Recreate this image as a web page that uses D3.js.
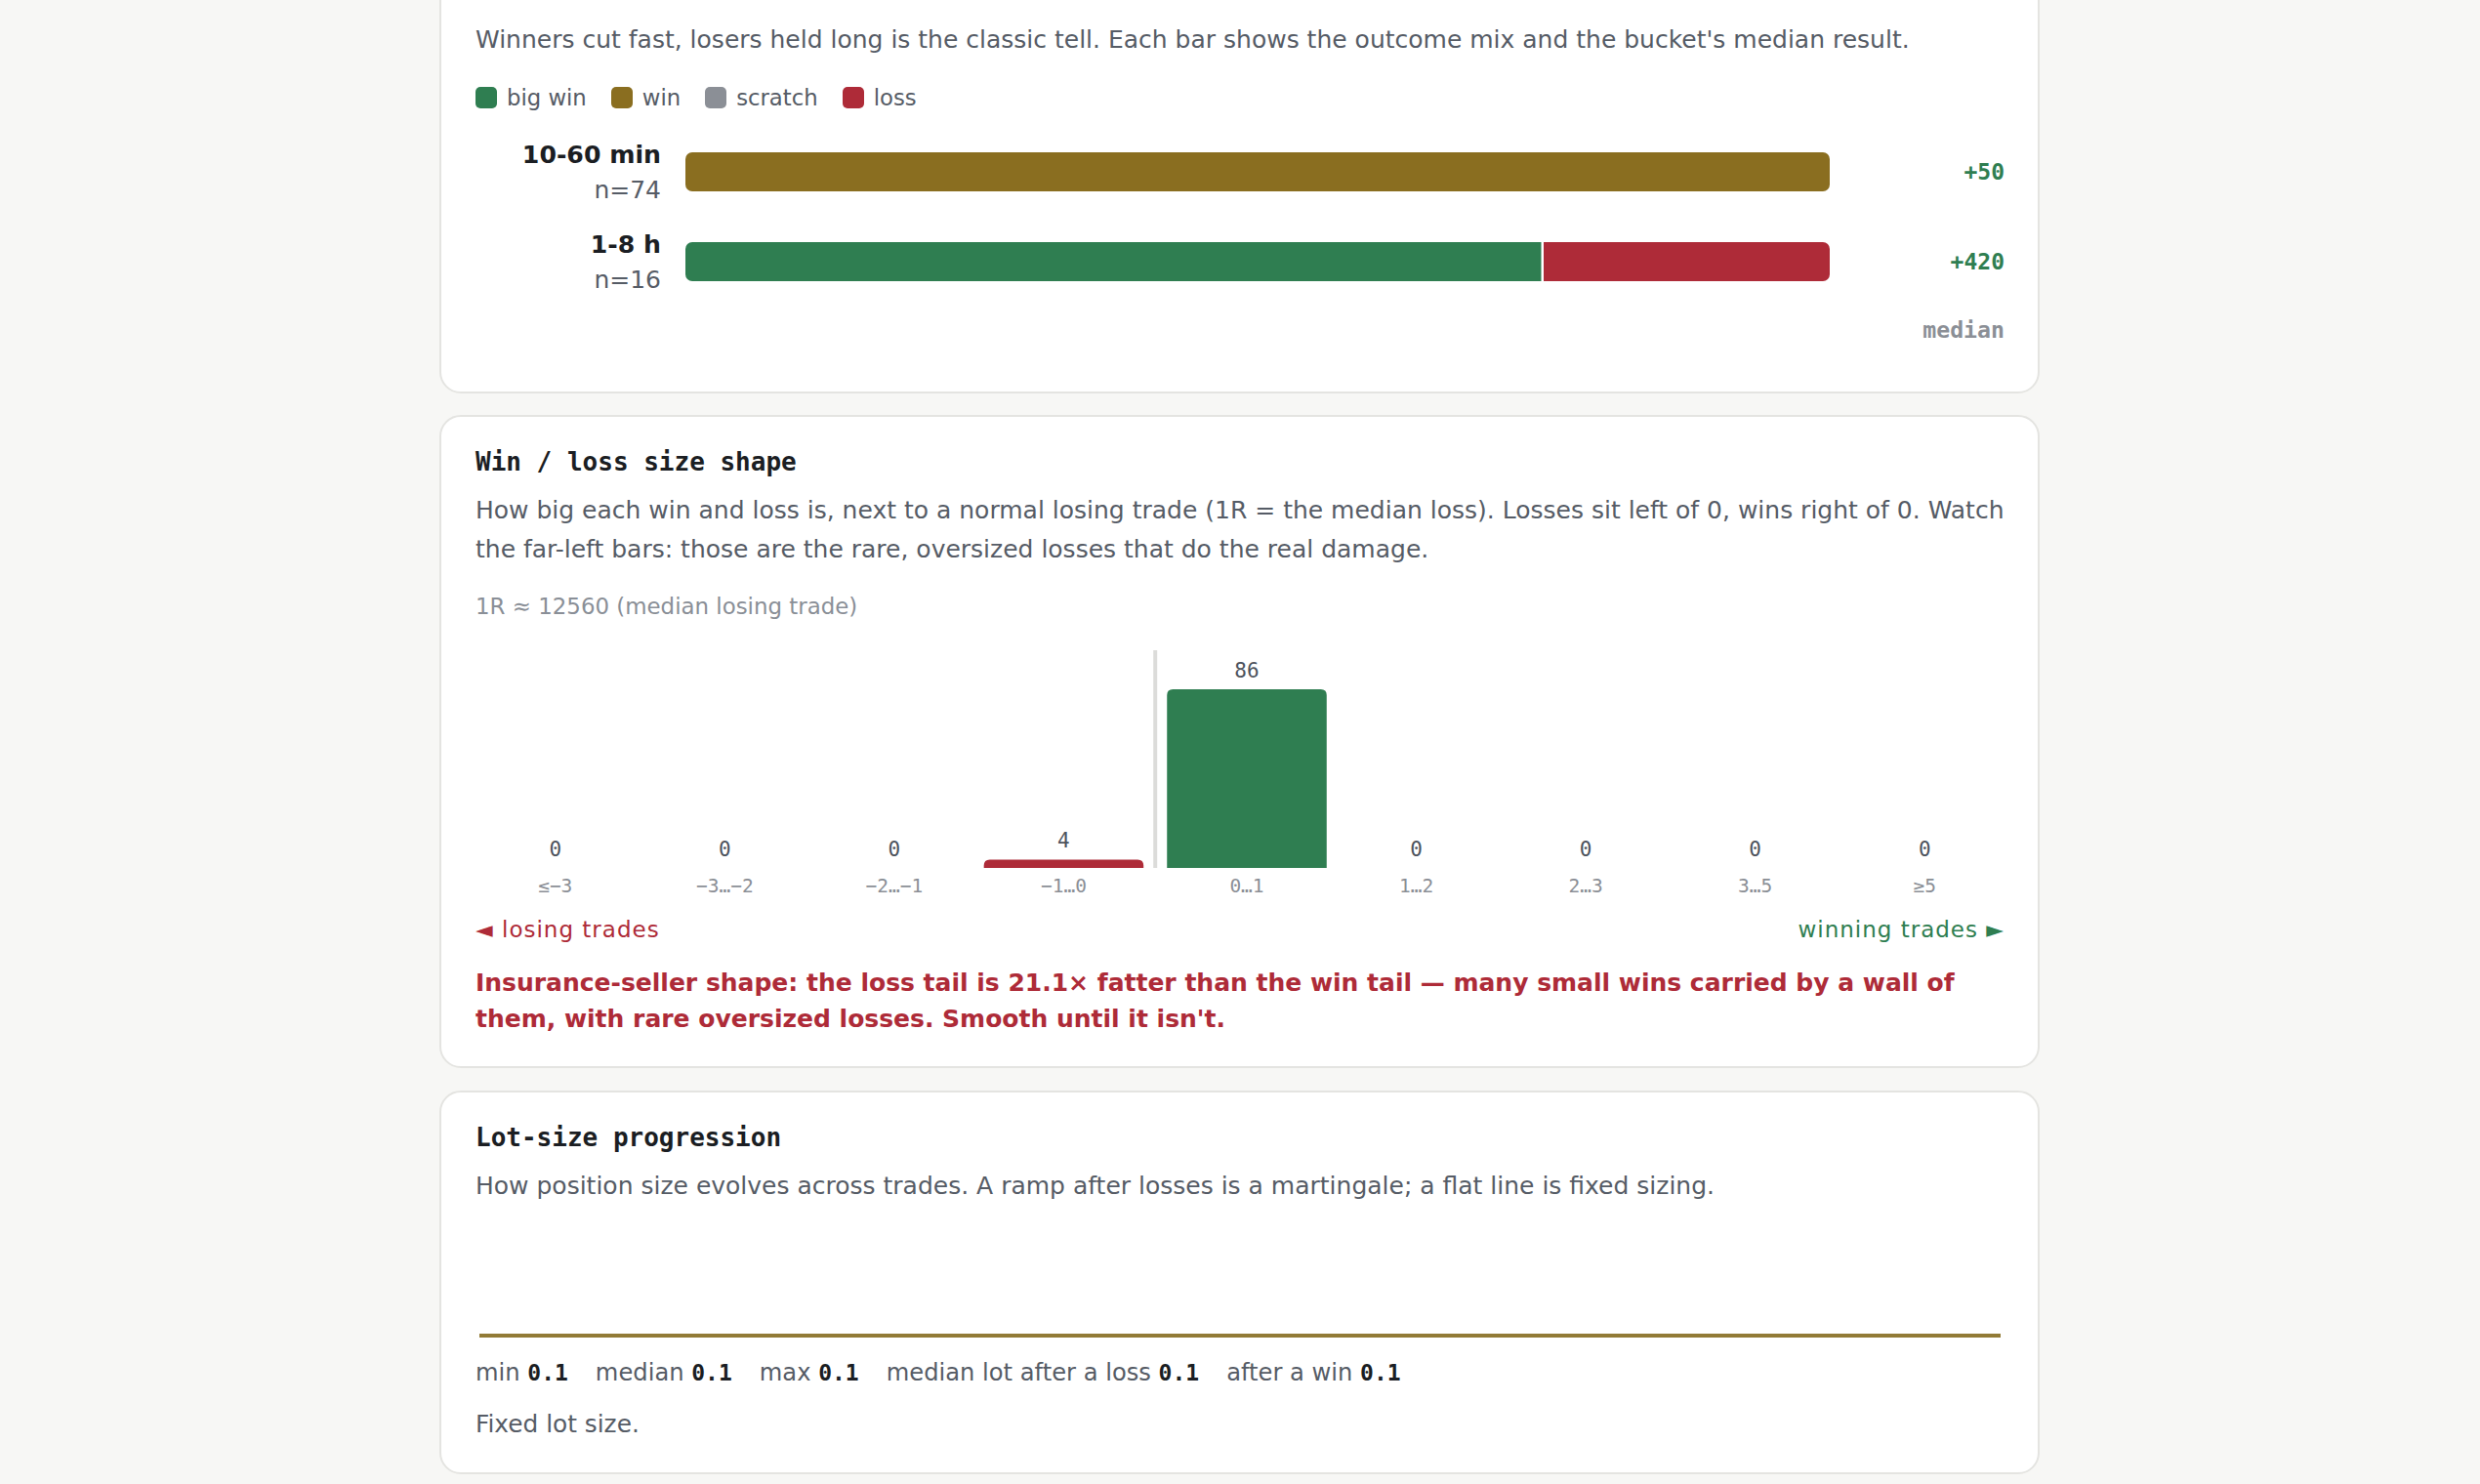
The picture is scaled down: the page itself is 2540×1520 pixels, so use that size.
<!DOCTYPE html>
<html>
<head>
<meta charset="utf-8">
<script src="https://cdn.jsdelivr.net/npm/d3@7"></script>
<style>
html, body { margin: 0; padding: 0; }
body {
  position: relative; width: 2540px; height: 1520px; overflow: hidden;
  background: #f7f7f5; color: #565c66;
  font-family: "DejaVu Sans", sans-serif;
}
.card {
  position: absolute; left: 450px; width: 1639px; box-sizing: border-box;
  background: #fff; border: 2px solid #e4e4e1; border-radius: 22px;
}
.card > * { position: absolute; left: 35px; width: 1566px; margin: 0; }
h3 { font-family: "DejaVu Sans Mono", monospace; font-weight: bold; font-size: 26px; line-height: 32px; color: #1b1e23; }
.desc { font-size: 25px; line-height: 40px; white-space: nowrap; }
.note { font-size: 22.9px; line-height: 32px; color: #8a8f97; }
.legend { display: flex; align-items: center; height: 40px; font-size: 22.75px; }
.legend .item { display: flex; align-items: center; margin-right: 25px; }
.legend .sw { width: 22px; height: 22px; border-radius: 5px; margin-right: 10px; }
.sides { display: flex; justify-content: space-between; font-size: 23px; line-height: 32px; letter-spacing: 1px; }
.insight { font-size: 25px; line-height: 37px; font-weight: bold; color: #ae2b38; white-space: nowrap; top: 561px; }
.stats { font-size: 24.2px; line-height: 32px; white-space: nowrap; }
.stats b { font-family: "DejaVu Sans Mono", monospace; font-size: 23px; color: #1b1e23; margin-right: 28px; }
.plain { font-size: 24.8px; line-height: 32px; }
svg text { font-family: "DejaVu Sans", sans-serif; }
svg .mono { font-family: "DejaVu Sans Mono", monospace; }
</style>
</head>
<body>

<div class="card" id="card1" style="top:-60px;height:463px">
  <p class="desc" style="top:79px">Winners cut fast, losers held long is the classic tell. Each bar shows the outcome mix and the bucket's median result.</p>
  <div class="legend" id="legend" style="top:138px"></div>
  <svg id="holdChart" style="top:183px" width="1566" height="240"></svg>
</div>

<div class="card" id="card2" style="top:425px;height:669px">
  <h3 style="top:30px">Win / loss size shape</h3>
  <p class="desc" style="top:76px">How big each win and loss is, next to a normal losing trade (1R = the median loss). Losses sit left of 0, wins right of 0. Watch<br>the far-left bars: those are the rare, oversized losses that do the real damage.</p>
  <p class="note" id="oneRNote" style="top:178px"></p>
  <svg id="sizeChart" style="top:213px" width="1566" height="290"></svg>
  <div class="sides" style="top:509px"><span style="color:#ae2b38">◄ losing trades</span><span style="color:#2f7e51">winning trades ►</span></div>
  <p class="insight" id="insight"></p>
</div>

<div class="card" id="card3" style="top:1117px;height:393px">
  <h3 style="top:30px">Lot-size progression</h3>
  <p class="desc" style="top:76px">How position size evolves across trades. A ramp after losses is a martingale; a flat line is fixed sizing.</p>
  <svg id="lotChart" style="top:126px" width="1566" height="140"></svg>
  <p class="stats" id="lotStats" style="top:271px"></p>
  <p class="plain" style="top:324px">Fixed lot size.</p>
</div>

<script>
// --- hold time buckets (outcome mix) ---
const holdBuckets = ['10-60 min', '1-8 h'];
const holdN       = [74, 16];
const holdBigWin  = [0, 12];
const holdWin     = [74, 0];
const holdScratch = [0, 0];
const holdLoss    = [0, 4];
const holdMedian  = [50, 420];

const outcomeKeys   = ['big win', 'win', 'scratch', 'loss'];
const outcomeColors = ['#2f7e51', '#8a6e20', '#8b8f96', '#ae2b38'];

// --- win / loss size histogram (in R) ---
const sizeBuckets = ['≤−3', '−3…−2', '−2…−1', '−1…0', '0…1', '1…2', '2…3', '3…5', '≥5'];
const sizeCounts  = [0, 0, 0, 4, 86, 0, 0, 0, 0];
const oneR = 12560;
const tailRatio = 21.1;

// --- lot sizes per trade ---
const lots = [
  0.1, 0.1, 0.1, 0.1, 0.1, 0.1, 0.1, 0.1, 0.1, 0.1, 0.1, 0.1, 0.1, 0.1, 0.1,
  0.1, 0.1, 0.1, 0.1, 0.1, 0.1, 0.1, 0.1, 0.1, 0.1, 0.1, 0.1, 0.1, 0.1, 0.1,
  0.1, 0.1, 0.1, 0.1, 0.1, 0.1, 0.1, 0.1, 0.1, 0.1, 0.1, 0.1, 0.1, 0.1, 0.1,
  0.1, 0.1, 0.1, 0.1, 0.1, 0.1, 0.1, 0.1, 0.1, 0.1, 0.1, 0.1, 0.1, 0.1, 0.1,
  0.1, 0.1, 0.1, 0.1, 0.1, 0.1, 0.1, 0.1, 0.1, 0.1, 0.1, 0.1, 0.1, 0.1, 0.1,
  0.1, 0.1, 0.1, 0.1, 0.1, 0.1, 0.1, 0.1, 0.1, 0.1, 0.1, 0.1, 0.1, 0.1, 0.1
];
const lotAfterLoss = 0.1;
const lotAfterWin  = 0.1;

const GREEN = '#2f7e51', RED = '#ae2b38', INK = '#1b1e23', GREY = '#8b8f96';
const color = d3.scaleOrdinal().domain(outcomeKeys).range(outcomeColors);

// legend
const legend = d3.select('#legend').selectAll('.item').data(outcomeKeys).join('div').attr('class', 'item');
legend.append('div').attr('class', 'sw').style('background', d => color(d));
legend.append('span').text(d => d);

// stacked outcome bars
(function () {
  const svg = d3.select('#holdChart');
  const rows = holdBuckets.map((b, i) => ({
    bucket: b, n: holdN[i], median: holdMedian[i],
    'big win': holdBigWin[i], 'win': holdWin[i], 'scratch': holdScratch[i], 'loss': holdLoss[i]
  }));
  const series = d3.stack().keys(outcomeKeys).offset(d3.stackOffsetExpand)(rows);

  const x = d3.scaleLinear().domain([0, 1]).range([215, 1387]);
  const y = d3.scalePoint().domain(holdBuckets).range([51, 143]);
  const barH = 40;

  const defs = svg.append('defs');
  rows.forEach((r, i) => {
    defs.append('clipPath').attr('id', 'rowClip' + i)
      .append('rect')
      .attr('x', x(0)).attr('y', y(r.bucket) - barH / 2)
      .attr('width', x(1) - x(0)).attr('height', barH).attr('rx', 7);
  });

  series.forEach(s => {
    s.forEach((d, i) => {
      const w = x(d[1]) - x(d[0]);
      if (w <= 0) return;
      const last = d[1] > 0.9999;
      svg.append('rect')
        .attr('clip-path', `url(#rowClip${i})`)
        .attr('x', x(d[0])).attr('y', y(rows[i].bucket) - barH / 2)
        .attr('width', last ? w : w - 2.5).attr('height', barH)
        .attr('fill', color(s.key));
    });
  });

  const lab = svg.append('g').selectAll('g').data(rows).join('g')
    .attr('transform', d => `translate(0,${y(d.bucket)})`);
  lab.append('text').attr('x', 190).attr('y', -9).attr('text-anchor', 'end')
    .attr('font-size', 25.2).attr('font-weight', 'bold').attr('fill', INK).text(d => d.bucket);
  lab.append('text').attr('x', 190).attr('y', 27).attr('text-anchor', 'end')
    .attr('font-size', 25).attr('fill', '#565c66').text(d => 'n=' + d.n);
  lab.append('text').attr('class', 'mono').attr('x', 1566).attr('y', 8).attr('text-anchor', 'end')
    .attr('font-size', 23).attr('font-weight', 'bold')
    .attr('fill', d => d.median >= 0 ? GREEN : RED)
    .text(d => (d.median >= 0 ? '+' : '') + d.median);

  svg.append('text').attr('class', 'mono').attr('x', 1566).attr('y', 221).attr('text-anchor', 'end')
    .attr('font-size', 23.2).attr('font-weight', 'bold').attr('fill', GREY).text('median');
})();

// win/loss size histogram
(function () {
  d3.select('#oneRNote').text(`1R ≈ ${oneR} (median losing trade)`);
  d3.select('#insight').html(
    `Insurance-seller shape: the loss tail is ${tailRatio}× fatter than the win tail — many small wins carried by a wall of<br>` +
    `them, with rare oversized losses. Smooth until it isn't.`);

  const svg = d3.select('#sizeChart');
  const gapZero = 14;            // room for the zero divider
  const band = d3.scaleBand().domain(sizeBuckets).range([0, 1566 - gapZero]).paddingInner(0.0578).paddingOuter(0);
  const isWin = (d, i) => i >= 4;
  const bx = (d, i) => band(d) + (isWin(d, i) ? gapZero : 0);
  const base = 249;
  const y = d3.scaleLinear().domain([0, d3.max(sizeCounts)]).range([base, 66]);
  const r = 6;

  const zx = band(sizeBuckets[3]) + band.bandwidth() + gapZero / 2 + 5;
  svg.append('line').attr('x1', zx).attr('x2', zx).attr('y1', 26).attr('y2', base)
    .attr('stroke', '#dcdcda').attr('stroke-width', 4);

  const col = svg.append('g').selectAll('g').data(sizeBuckets).join('g');
  col.each(function (d, i) {
    const g = d3.select(this);
    const x0 = bx(d, i), w = band.bandwidth(), v = sizeCounts[i];
    const top = y(v), h = base - top;
    if (h > 0) {
      const rr = Math.min(r, h);
      g.append('path')
        .attr('d', `M${x0},${base} V${top + rr} Q${x0},${top} ${x0 + rr},${top} H${x0 + w - rr} Q${x0 + w},${top} ${x0 + w},${top + rr} V${base} Z`)
        .attr('fill', isWin(d, i) ? GREEN : RED);
    }
    g.append('text').attr('class', 'mono').attr('x', x0 + w / 2).attr('y', top - 12)
      .attr('text-anchor', 'middle').attr('font-size', 21).attr('fill', '#4d535d').text(v);
    g.append('text').attr('class', 'mono').attr('x', x0 + w / 2).attr('y', 274)
      .attr('text-anchor', 'middle').attr('font-size', 19.5).attr('fill', GREY).text(d);
  });
})();

// lot-size line
(function () {
  const svg = d3.select('#lotChart');
  const [lo, hi] = d3.extent(lots);
  const x = d3.scaleLinear().domain([0, lots.length - 1]).range([4, 1562]);
  const y = d3.scaleLinear().domain(lo === hi ? [lo, lo * 2] : [lo, hi]).range([123, 10]);
  svg.append('path').datum(lots)
    .attr('d', d3.line().x((d, i) => x(i)).y(d => y(d)))
    .attr('fill', 'none').attr('stroke', '#927b36').attr('stroke-width', 4);

  const stats = [
    ['min', lo], ['median', d3.median(lots)], ['max', hi],
    ['median lot after a loss', lotAfterLoss], ['after a win', lotAfterWin]
  ];
  const p = d3.select('#lotStats');
  stats.forEach(([k, v]) => {
    p.append('span').text(k + ' ');
    p.append('b').text(v);
  });
})();
</script>
</body>
</html>
